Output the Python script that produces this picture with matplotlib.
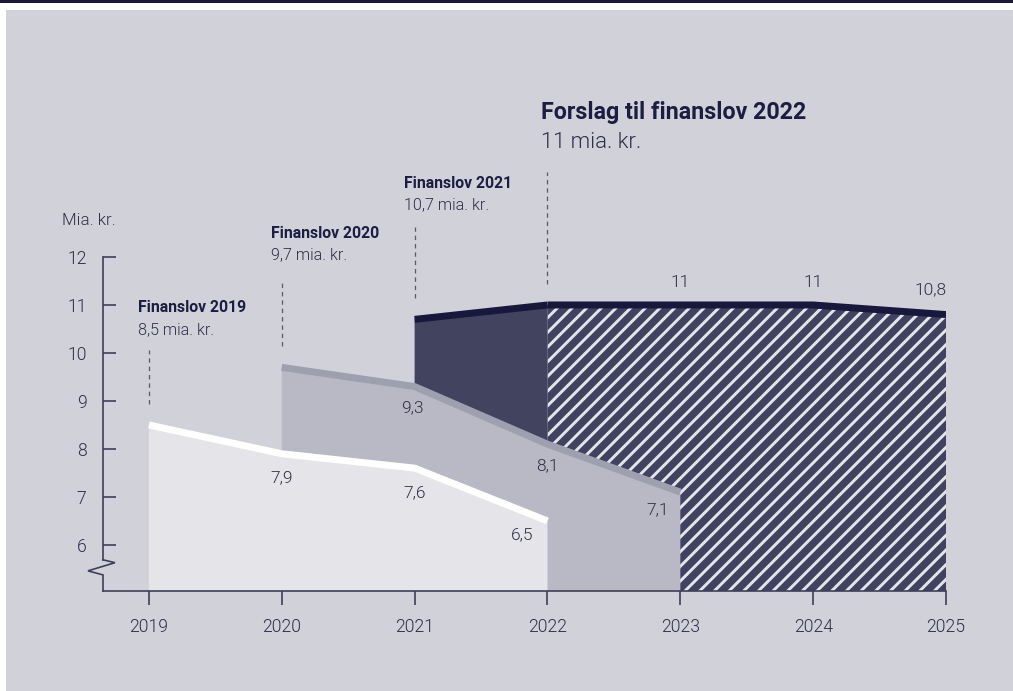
import matplotlib.pyplot as plt
from matplotlib.patches import Rectangle

# ---------------------------------------------
# Finanslove 2019-2022: rammer i mia. kr.
# ---------------------------------------------

years = [2019, 2020, 2021, 2022, 2023, 2024, 2025]

fl2019_x = [2019, 2020, 2021, 2022]
fl2019_y = [8.5, 7.9, 7.6, 6.5]

fl2020_x = [2020, 2021, 2022, 2023]
fl2020_y = [9.7, 9.3, 8.1, 7.1]

fl2021_x = [2021, 2022]
fl2021_y = [10.7, 11.0]

fl2022_x = [2022, 2023, 2024, 2025]
fl2022_y = [11.0, 11.0, 11.0, 10.8]

yticks = [6, 7, 8, 9, 10, 11, 12]

titles = ["Finanslov 2019", "Finanslov 2020", "Finanslov 2021", "Forslag til finanslov 2022"]
subtitles = ["8,5 mia. kr.", "9,7 mia. kr.", "10,7 mia. kr.", "11 mia. kr."]


def fmt(v):
    s = f"{v:.1f}".replace(".", ",")
    return s[:-2] if s.endswith(",0") else s


BG = "#d0d1d9"
NAVY = "#18183c"
TXT = "#2e2f45"
AXC = "#3d3e57"
DPI = 132
LIGHT = 300

plt.rcParams["font.family"] = ["Roboto", "DejaVu Sans"]

fig = plt.figure(figsize=(7.675, 5.235), dpi=DPI, facecolor="white")
fig.patches.append(Rectangle((0, 1 - 3 / 691), 1, 3 / 691, transform=fig.transFigure,
                             facecolor=NAVY, edgecolor="none", zorder=-2))
fig.patches.append(Rectangle((6 / 1013, 0), 1, 1 - 10 / 691, transform=fig.transFigure,
                             facecolor=BG, edgecolor="none", zorder=-2))

ax = fig.add_axes([103 / 1013, 100 / 691, 843 / 1013, 334 / 691])
ax.set_facecolor("none")
ymin = 5.04
ax.set_xlim(2018.655, 2025)
ax.set_ylim(ymin, 12)

# Forslag 2022 (hatched) and Finanslov 2021 (dark)
plt.rcParams["hatch.linewidth"] = 1.6
ax.fill_between(fl2022_x, ymin, fl2022_y, facecolor="#41425f", edgecolor="#e4e5eb",
                hatch="///", linewidth=0, zorder=1)
ax.fill_between(fl2021_x, ymin, fl2021_y, facecolor="#42435f", linewidth=0, zorder=1)
ax.plot(fl2021_x, fl2021_y, color=NAVY, lw=3.8, solid_capstyle="butt", zorder=2)
ax.plot(fl2022_x, fl2022_y, color=NAVY, lw=3.8, solid_capstyle="butt", zorder=2)

# Finanslov 2020
ax.fill_between(fl2020_x, ymin, fl2020_y, facecolor="#b8b9c4", linewidth=0, zorder=3)
ax.plot(fl2020_x, fl2020_y, color="#9fa0af", lw=3.8, solid_capstyle="butt", zorder=4)

# Finanslov 2019
ax.fill_between(fl2019_x, ymin, fl2019_y, facecolor="#e4e4e9", linewidth=0, zorder=5)
ax.plot(fl2019_x, fl2019_y, color="white", lw=3.8, solid_capstyle="butt", zorder=6)

# value labels
tk = dict(ha="center", va="center", fontsize=9.5, fontweight=LIGHT, color=TXT, zorder=8)
ax.text(fl2019_x[1], fl2019_y[1] - 0.5, fmt(fl2019_y[1]), **tk)
ax.text(fl2019_x[2], fl2019_y[2] - 0.52, fmt(fl2019_y[2]), **tk)
ax.text(fl2019_x[3] - 0.19, fl2019_y[3] - 0.29, fmt(fl2019_y[3]), **tk)
ax.text(fl2020_x[1] - 0.02, fl2020_y[1] - 0.45, fmt(fl2020_y[1]), **tk)
ax.text(fl2020_x[2], fl2020_y[2] - 0.45, fmt(fl2020_y[2]), **tk)
ax.text(fl2020_x[3] - 0.17, fl2020_y[3] - 0.37, fmt(fl2020_y[3]), **tk)
ax.text(fl2022_x[1], fl2022_y[1] + 0.46, fmt(fl2022_y[1]), **tk)
ax.text(fl2022_x[2], fl2022_y[2] + 0.46, fmt(fl2022_y[2]), **tk)
ax.text(fl2022_x[3] - 0.12, fl2022_y[3] + 0.51, fmt(fl2022_y[3]), **tk)

# series headers and dashed leader lines
starts = [fl2019_x[0], fl2020_x[0], fl2021_x[0], fl2022_x[0]]
tops = [fl2019_y[0], fl2020_y[0], fl2021_y[0], fl2022_y[0]]
title_y = [10.94, 12.5, 13.54, 15.02]
sub_y = [10.48, 12.04, 13.08, 14.38]
dash_top = [10.06, 11.46, 12.62, 13.77]
for i in range(4):
    big = i == 3
    ax.text(starts[i] - (0.05 if big else 0.08), title_y[i], titles[i], ha="left", va="center",
            fontsize=12.7 if big else 8.6, fontweight="bold", color="#1c1d40", clip_on=False)
    ax.text(starts[i] - (0.05 if big else 0.08), sub_y[i], subtitles[i], ha="left", va="center",
            fontsize=12 if big else 8.8, fontweight=LIGHT, color=TXT, clip_on=False)
    ax.plot([starts[i], starts[i]], [tops[i] + 0.44, dash_top[i]], color="#5a5b70", lw=0.7,
            ls=(0, (3.5, 3)), clip_on=False, zorder=7)

ax.text(2018.35, 12.77, "Mia. kr.", ha="left", va="center", fontsize=9.2, fontweight=LIGHT,
        color=TXT, clip_on=False)

# axes
for s in ["top", "right"]:
    ax.spines[s].set_visible(False)
ax.spines["bottom"].set_color(AXC)
ax.spines["bottom"].set_linewidth(0.9)
ax.spines["bottom"].set_zorder(9)
ax.spines["left"].set_color(AXC)
ax.spines["left"].set_linewidth(0.9)
ax.spines["left"].set_bounds(5.69, 12)
x0 = 2018.655
ax.plot([x0, x0 + 0.09, x0 - 0.113, x0, x0], [5.69, 5.63, 5.46, 5.375, ymin],
        color=AXC, lw=0.9, clip_on=False, zorder=9, solid_joinstyle="miter")

ax.set_xticks(years)
ax.set_xticklabels([str(y) for y in years])
ax.set_yticks(yticks)
ax.set_yticklabels([str(y) for y in yticks])
ax.tick_params(axis="x", direction="out", length=7.5, width=0.9, color=AXC, pad=7,
               labelsize=9.6, labelcolor=TXT)
ax.tick_params(axis="y", direction="in", length=7, width=0.9, color=AXC, pad=9,
               labelsize=9.6, labelcolor=TXT)
for lab in ax.get_xticklabels() + ax.get_yticklabels():
    lab.set_fontweight(LIGHT)

fig.savefig("out.png", dpi=DPI, facecolor=fig.get_facecolor())
